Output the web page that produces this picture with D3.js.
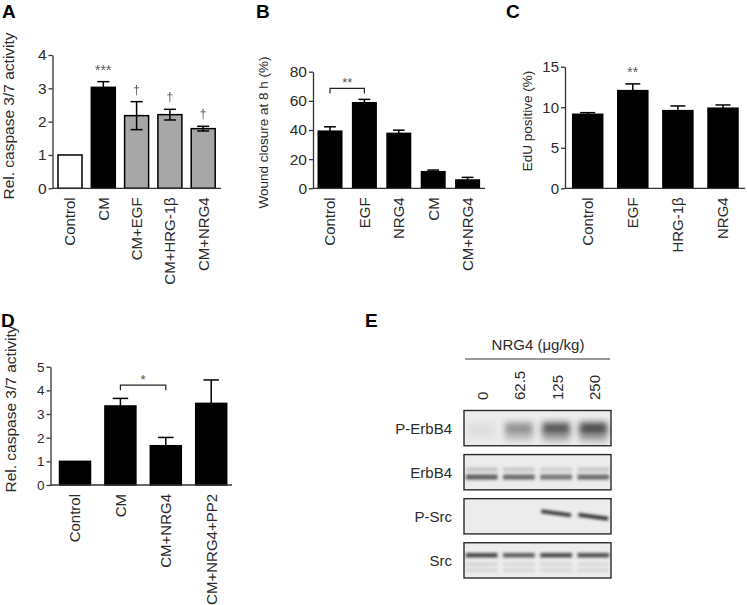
<!DOCTYPE html>
<html>
<head>
<meta charset="utf-8">
<script src="https://cdn.jsdelivr.net/npm/d3@7"></script>
<style>
  body { margin: 0; background: #fff; }
  svg text { font-family: 'Liberation Sans', Arial, Helvetica, sans-serif; }
</style>
</head>
<body>
<div id="fig"></div>
<script>
// ---- data ----
// A
const catsA = ['Control', 'CM', 'CM+EGF', 'CM+HRG-1\u03b2', 'CM+NRG4'];
const valsA = [1, 3.03, 2.18, 2.21, 1.79];
const errsA = [0, 0.17, 0.42, 0.16, 0.07];
const notesA = ['', '***', '\u2020', '\u2020', '\u2020'];
const ticksA = [0, 1, 2, 3, 4];
// B
const catsB = ['Control', 'EGF', 'NRG4', 'CM', 'CM+NRG4'];
const valsB = [39.2, 58.7, 37.7, 11.4, 5.7];
const errsB = [3.0, 2.3, 2.2, 1.1, 1.8];
const ticksB = [0, 20, 40, 60, 80];
// C
const catsC = ['Control', 'EGF', 'HRG-1\u03b2', 'NRG4'];
const valsC = [9.13, 12.05, 9.58, 9.88];
const errsC = [0.2, 0.83, 0.58, 0.4];
const notesC = ['', '**', '', ''];
const ticksC = [0, 5, 10, 15];
// D
const catsD = ['Control', 'CM', 'CM+NRG4', 'CM+NRG4+PP2'];
const valsD = [1, 3.34, 1.66, 3.45];
const errsD = [0, 0.32, 0.35, 0.99];
const ticksD = [0, 1, 2, 3, 4, 5];
// E  (band intensities 0..1 per lane)
const doses = ['0', '62.5', '125', '250'];
const blotRows = ['P-ErbB4', 'ErbB4', 'P-Src', 'Src'];
const pErbB4 = [0.06, 0.42, 0.72, 0.78];
const erbB4Upper = [0.2, 0.18, 0.15, 0.18];
const erbB4Lower = [0.7, 0.64, 0.58, 0.64];
const pSrc = [0.04, 0.14, 0.88, 0.92];
const srcMain = [0.82, 0.7, 0.8, 0.78];
const srcFaint = [0.12, 0.1, 0.1, 0.1];

const W = 747, H = 605;
const svg = d3.select('#fig').append('svg')
    .attr('width', W).attr('height', H);

const ink = '#2b2b2b';

function letter(t, x, y) {
    svg.append('text').attr('x', x).attr('y', y)
        .attr('font-size', 19).attr('font-weight', 'bold').attr('fill', '#000')
        .text(t);
}

// generic bar panel
function barPanel(c) {
    const n = c.cats.length;
    const p = 1 - c.bw / c.step;
    const r0 = c.firstCenter - c.step / 2;
    const x = d3.scaleBand().domain(c.cats)
        .range([r0, r0 + n * c.step])
        .paddingInner(p).paddingOuter(p / 2);
    const y = d3.scaleLinear().domain([0, c.max]).range([c.y0, c.yTop]);

    const g = svg.append('g');

    // bars
    g.selectAll('rect.bar').data(c.cats).enter().append('rect')
        .attr('class', 'bar')
        .attr('x', d => x(d))
        .attr('width', x.bandwidth())
        .attr('y', (d, i) => y(c.vals[i]))
        .attr('height', (d, i) => c.y0 - y(c.vals[i]))
        .attr('fill', (d, i) => c.fills ? c.fills[i] : '#000')
        .attr('stroke', '#000').attr('stroke-width', 1.5);

    // error bars
    const capW = x.bandwidth() * 0.5;
    c.cats.forEach((d, i) => {
        const e = c.errs[i];
        if (!e) return;
        const cx = x(d) + x.bandwidth() / 2;
        const hi = y(c.vals[i] + e), lo = y(c.vals[i] - e);
        g.append('line').attr('x1', cx).attr('x2', cx).attr('y1', lo).attr('y2', hi)
            .attr('stroke', '#000').attr('stroke-width', 1.5);
        [hi, lo].forEach(yy => {
            g.append('line').attr('x1', cx - capW / 2).attr('x2', cx + capW / 2)
                .attr('y1', yy).attr('y2', yy)
                .attr('stroke', '#000').attr('stroke-width', 1.5);
        });
    });

    // y axis
    const ax = g.append('g').attr('transform', `translate(${c.axisX},0)`)
        .call(d3.axisLeft(y).tickValues(c.ticks).tickFormat(d3.format('d'))
            .tickSize(4).tickSizeOuter(0).tickPadding(2));
    ax.selectAll('path,line').attr('stroke', '#333').attr('stroke-width', 1.3);
    ax.selectAll('text').attr('font-size', c.tickFont).attr('fill', ink)
        .attr('font-family', "'Liberation Sans', Arial, sans-serif");

    // x axis line
    g.append('line').attr('x1', c.axisX).attr('x2', c.axisEnd)
        .attr('y1', c.y0).attr('y2', c.y0)
        .attr('stroke', '#333').attr('stroke-width', 1.3);

    // category labels
    g.selectAll('text.cat').data(c.cats).enter().append('text')
        .attr('class', 'cat')
        .attr('transform', d => `translate(${x(d) + x.bandwidth() / 2},${c.y0 + 9}) rotate(-90)`)
        .attr('text-anchor', 'end').attr('dy', '0.36em')
        .attr('font-size', c.xFont).attr('fill', ink)
        .text(d => d);

    // y label
    g.append('text')
        .attr('transform', `translate(${c.ylabX},${c.ylabY}) rotate(-90)`)
        .attr('text-anchor', 'middle')
        .attr('font-size', c.ylabFont).attr('fill', ink)
        .text(c.ylab);

    // significance marks above bars
    if (c.notes) {
        c.notes.forEach((t, i) => {
            if (!t) return;
            const dagger = t === '\u2020';
            g.append('text')
                .attr('x', x(c.cats[i]) + x.bandwidth() / 2)
                .attr('y', y(c.vals[i] + c.errs[i]) - (dagger ? 8 : 7))
                .attr('text-anchor', 'middle')
                .attr('font-size', dagger ? 12 : 14)
                .attr('fill', '#555')
                .style('opacity', 0.99)
                .text(t);
        });
    }
    // bracket
    if (c.bracket) {
        const b = c.bracket;
        const xa = x(b.from) + x.bandwidth() / 2, xb = x(b.to) + x.bandwidth() / 2;
        const yb = y(b.level);
        g.append('path')
            .attr('d', `M${xa},${yb + 5}V${yb}H${xb}V${yb + 5}`)
            .attr('fill', 'none').attr('stroke', '#222').attr('stroke-width', 1.2);
        g.append('text').attr('x', (xa + xb) / 2).attr('y', yb - 1)
            .attr('text-anchor', 'middle').attr('font-size', 13).attr('fill', '#555')
            .text(b.label);
    }
}

// A
letter('A', 2, 17.5);
barPanel({
    cats: catsA, vals: valsA, errs: errsA, notes: notesA, ticks: ticksA,
    fills: ['#fff', '#000', '#a7a7a7', '#a7a7a7', '#a7a7a7'],
    max: 4, y0: 188.3, yTop: 55, axisX: 52.5, axisEnd: 221,
    firstCenter: 70, step: 33.3, bw: 24,
    tickFont: 15.5, xFont: 15, ylab: 'Rel. caspase 3/7 activity', ylabFont: 15.5,
    ylabX: 14, ylabY: 116
});

// B
letter('B', 256, 18);
barPanel({
    cats: catsB, vals: valsB, errs: errsB, ticks: ticksB,
    max: 80, y0: 188.3, yTop: 71.7, axisX: 313, axisEnd: 485,
    firstCenter: 330, step: 34.4, bw: 23.5,
    tickFont: 15.5, xFont: 15, ylab: 'Wound closure at 8 h (%)', ylabFont: 13.5,
    ylabX: 268, ylabY: 132.5,
    bracket: { from: 'Control', to: 'EGF', level: 68.5, label: '**' }
});

// C
letter('C', 506, 18);
barPanel({
    cats: catsC, vals: valsC, errs: errsC, notes: notesC, ticks: ticksC,
    max: 15, y0: 188.3, yTop: 66.7, axisX: 565, axisEnd: 745,
    firstCenter: 587.7, step: 45.1, bw: 30,
    tickFont: 15, xFont: 15, ylab: 'EdU positive (%)', ylabFont: 13.5,
    ylabX: 532, ylabY: 121
});

// D
letter('D', 1, 327);
barPanel({
    cats: catsD, vals: valsD, errs: errsD, ticks: ticksD,
    max: 5, y0: 485, yTop: 366.7, axisX: 50.5, axisEnd: 232,
    firstCenter: 75, step: 45.4, bw: 31,
    tickFont: 13.5, xFont: 15, ylab: 'Rel. caspase 3/7 activity', ylabFont: 15.5,
    ylabX: 15.5, ylabY: 409,
    bracket: { from: 'CM', to: 'CM+NRG4', level: 4.22, label: '*' }
});

// E  western blot
letter('E', 365, 327);
const lane = d3.scaleBand().domain(doses).range([464, 611]).paddingInner(0.15).paddingOuter(0.05);
const rowY = d3.scaleBand().domain(blotRows).range([410.5, 578]).paddingInner(0.2).paddingOuter(0);

const defs = svg.append('defs');
defs.append('filter').attr('id', 'blur').attr('x', '-20%').attr('y', '-100%')
    .attr('width', '140%').attr('height', '300%')
    .append('feGaussianBlur').attr('stdDeviation', 1.6);
defs.append('filter').attr('id', 'blur2').attr('x', '-20%').attr('y', '-100%')
    .attr('width', '140%').attr('height', '300%')
    .append('feGaussianBlur').attr('stdDeviation', 3);

const eg = svg.append('g');
svg.append('text').attr('x', 538).attr('y', 350).attr('text-anchor', 'middle')
    .attr('font-size', 15).attr('fill', ink).text('NRG4 (\u03bcg/kg)');
svg.append('line').attr('x1', 465).attr('x2', 610).attr('y1', 359).attr('y2', 359)
    .attr('stroke', '#333').attr('stroke-width', 1.2);
svg.selectAll('text.dose').data(doses).enter().append('text')
    .attr('class', 'dose')
    .attr('transform', d => `translate(${lane(d) + lane.bandwidth() / 2 + 1},400) rotate(-90)`)
    .attr('dy', '0.36em').attr('font-size', 15).attr('fill', ink)
    .text(d => d);

blotRows.forEach((r, ri) => {
    const y0 = rowY(r), h = rowY.bandwidth();
    defs.append('clipPath').attr('id', 'clip' + ri)
        .append('rect').attr('x', 464).attr('y', y0).attr('width', 147).attr('height', h);
    const bg = eg.append('g').attr('clip-path', `url(#clip${ri})`);
    bg.append('rect').attr('x', 464).attr('y', y0).attr('width', 147).attr('height', h)
        .attr('fill', '#ececec');
    const bands = bg.append('g');
    doses.forEach((d, li) => {
        const lx = lane(d), lw = lane.bandwidth();
        if (r === 'P-ErbB4') {
            bands.append('rect').attr('x', lx + 2).attr('y', y0 + 12).attr('width', lw - 4).attr('height', 11)
                .attr('fill', '#1a1a1a').attr('opacity', pErbB4[li]).attr('filter', 'url(#blur2)');
            bands.append('rect').attr('x', lx + 2).attr('y', y0 + 21).attr('width', lw - 4).attr('height', 10)
                .attr('fill', '#1a1a1a').attr('opacity', pErbB4[li] * 0.4).attr('filter', 'url(#blur2)');
        } else if (r === 'ErbB4') {
            bands.append('rect').attr('x', lx).attr('y', y0 + 13).attr('width', lw).attr('height', 4)
                .attr('fill', '#1a1a1a').attr('opacity', erbB4Upper[li]).attr('filter', 'url(#blur)');
            bands.append('rect').attr('x', lx).attr('y', y0 + 20).attr('width', lw).attr('height', 5)
                .attr('fill', '#1a1a1a').attr('opacity', erbB4Lower[li]).attr('filter', 'url(#blur)');
        } else if (r === 'P-Src') {
            const tilt = li >= 2 ? 4 : 0;
            const off = li === 3 ? 3.5 : 0;
            bands.append('path')
                .attr('d', `M${lx + 1},${y0 + 12.5 + off}L${lx + lw - 1},${y0 + 12.5 + off + tilt}`)
                .attr('stroke', '#111').attr('stroke-width', li >= 2 ? 3.5 : 2.5)
                .attr('opacity', pSrc[li]).attr('filter', 'url(#blur)');
        } else {
            bands.append('rect').attr('x', lx).attr('y', y0 + 10.5).attr('width', lw).attr('height', 4)
                .attr('fill', '#111').attr('opacity', srcMain[li]).attr('filter', 'url(#blur)');
            bands.append('rect').attr('x', lx).attr('y', y0 + 20).attr('width', lw).attr('height', 3)
                .attr('fill', '#111').attr('opacity', srcFaint[li]).attr('filter', 'url(#blur)');
            bands.append('rect').attr('x', lx).attr('y', y0 + 26).attr('width', lw).attr('height', 3)
                .attr('fill', '#111').attr('opacity', srcFaint[li]).attr('filter', 'url(#blur)');
        }
    });
    eg.append('rect').attr('x', 464).attr('y', y0).attr('width', 147).attr('height', h)
        .attr('fill', 'none').attr('stroke', '#2a2a2a').attr('stroke-width', 1.4);
    eg.append('text').attr('x', 452).attr('y', y0 + h / 2).attr('dy', '0.36em')
        .attr('text-anchor', 'end').attr('font-size', 15).attr('fill', ink).text(r);
});
</script>
</body>
</html>
